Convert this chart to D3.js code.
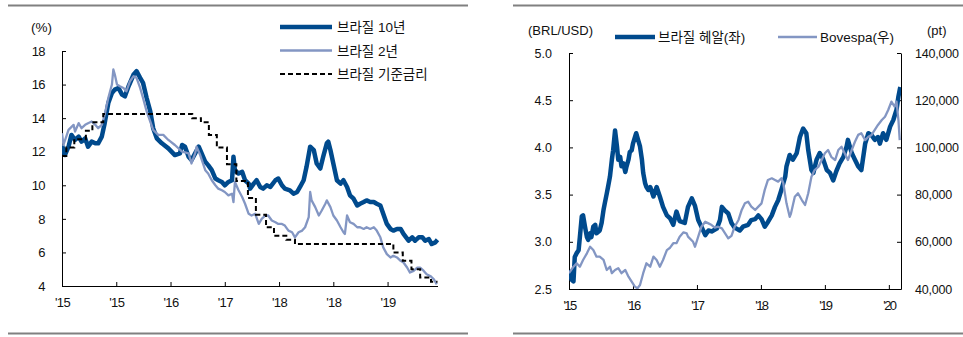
<!DOCTYPE html>
<html><head><meta charset="utf-8">
<script src="https://cdn.jsdelivr.net/npm/d3@7/dist/d3.min.js"></script>
<style>
body{margin:0;background:#fff}
svg text{font-family:"Liberation Sans",Arial,"Noto Sans CJK KR",sans-serif;fill:#111}
</style></head><body>
<svg id="c" width="963" height="337"></svg>
<script>
// ---------- DATA (decimal year, value) ----------
const bond10 = [[2015.00,12.4],[2015.04,11.8],[2015.09,12.3],[2015.13,13.0],[2015.18,12.7],[2015.23,12.9],[2015.27,12.6],[2015.32,12.8],[2015.36,12.3],[2015.41,12.6],[2015.46,12.5],[2015.50,12.5],[2015.55,12.9],[2015.59,13.7],[2015.64,14.9],[2015.69,15.5],[2015.73,15.7],[2015.78,15.8],[2015.83,15.4],[2015.87,15.3],[2015.92,15.9],[2015.99,16.6],[2016.03,16.8],[2016.08,16.4],[2016.12,16.1],[2016.17,15.2],[2016.22,14.4],[2016.26,13.4],[2016.31,12.8],[2016.38,12.5],[2016.47,12.2],[2016.56,11.8],[2016.63,11.9],[2016.66,12.4],[2016.70,12.3],[2016.75,11.7],[2016.79,11.5],[2016.84,11.9],[2016.89,12.3],[2016.93,11.9],[2016.98,11.4],[2017.02,11.2],[2017.07,10.9],[2017.12,10.4],[2017.16,10.3],[2017.21,10.2],[2017.25,10.0],[2017.30,10.2],[2017.35,10.3],[2017.37,11.7],[2017.39,10.9],[2017.44,10.7],[2017.49,10.8],[2017.53,10.3],[2017.58,10.1],[2017.60,9.8],[2017.65,10.1],[2017.69,10.3],[2017.74,9.9],[2017.78,9.8],[2017.83,10.0],[2017.88,9.9],[2017.95,10.3],[2017.99,10.4],[2018.04,10.0],[2018.08,9.8],[2018.15,9.7],[2018.20,9.5],[2018.25,9.6],[2018.29,9.9],[2018.34,10.3],[2018.38,11.1],[2018.43,12.3],[2018.48,12.1],[2018.52,11.3],[2018.57,11.0],[2018.61,11.7],[2018.66,12.5],[2018.68,12.6],[2018.71,12.1],[2018.75,11.3],[2018.80,10.3],[2018.85,10.1],[2018.89,10.3],[2018.94,9.9],[2018.98,9.4],[2019.03,9.2],[2019.08,8.8],[2019.12,8.9],[2019.17,9.0],[2019.21,9.1],[2019.26,9.0],[2019.31,9.0],[2019.35,8.9],[2019.40,8.8],[2019.44,8.3],[2019.49,7.7],[2019.54,7.4],[2019.58,7.3],[2019.63,7.4],[2019.68,7.4],[2019.72,7.1],[2019.79,6.7],[2019.84,6.9],[2019.88,6.7],[2019.93,6.9],[2019.98,6.9],[2020.02,6.7],[2020.07,6.8],[2020.11,6.5],[2020.16,6.6],[2020.19,6.75]];

const bond2 = [[2015.00,13.1],[2015.02,12.4],[2015.09,13.3],[2015.16,13.6],[2015.18,13.2],[2015.23,13.7],[2015.27,13.4],[2015.32,13.6],[2015.36,13.7],[2015.41,13.8],[2015.46,13.6],[2015.50,13.4],[2015.55,13.6],[2015.59,14.2],[2015.64,15.2],[2015.69,16.0],[2015.71,16.9],[2015.73,16.6],[2015.76,16.0],[2015.80,15.9],[2015.85,15.8],[2015.89,15.6],[2015.94,16.2],[2015.99,16.5],[2016.03,16.4],[2016.08,15.8],[2016.12,15.2],[2016.17,14.4],[2016.22,13.8],[2016.26,13.3],[2016.33,13.0],[2016.40,13.0],[2016.47,12.7],[2016.56,12.4],[2016.66,12.0],[2016.75,11.9],[2016.79,11.3],[2016.84,11.9],[2016.86,12.3],[2016.91,11.8],[2016.98,10.9],[2017.02,10.7],[2017.07,10.3],[2017.12,10.0],[2017.16,9.8],[2017.21,9.7],[2017.25,9.6],[2017.30,9.4],[2017.35,9.5],[2017.37,9.0],[2017.39,10.2],[2017.44,9.7],[2017.49,9.3],[2017.53,8.9],[2017.58,8.3],[2017.62,8.2],[2017.67,8.3],[2017.72,7.7],[2017.76,8.0],[2017.81,8.2],[2017.85,8.2],[2017.90,7.9],[2017.95,7.8],[2017.99,7.7],[2018.04,7.7],[2018.08,7.6],[2018.13,7.3],[2018.18,7.2],[2018.22,6.9],[2018.27,7.2],[2018.32,7.3],[2018.36,7.5],[2018.41,8.1],[2018.43,9.6],[2018.45,9.1],[2018.50,8.7],[2018.55,8.2],[2018.59,8.5],[2018.64,8.9],[2018.66,9.1],[2018.71,8.7],[2018.75,8.2],[2018.80,7.9],[2018.85,7.5],[2018.89,7.2],[2018.91,7.1],[2018.94,8.2],[2018.98,7.8],[2019.03,7.7],[2019.08,7.5],[2019.12,7.5],[2019.17,7.4],[2019.21,7.5],[2019.26,7.4],[2019.31,7.5],[2019.35,7.3],[2019.40,6.9],[2019.44,6.3],[2019.49,5.9],[2019.54,5.7],[2019.58,5.8],[2019.63,5.7],[2019.68,5.5],[2019.72,5.4],[2019.77,5.1],[2019.81,4.8],[2019.86,4.9],[2019.91,5.1],[2019.95,5.1],[2020.00,4.9],[2020.04,4.7],[2020.09,4.6],[2020.14,4.4],[2020.18,4.1]];

const selic = [[2015.00,11.75],[2015.06,12.25],[2015.17,12.75],[2015.33,13.25],[2015.42,13.75],[2015.57,14.25],[2016.80,14.00],[2016.92,13.75],[2017.03,13.00],[2017.14,12.25],[2017.28,11.25],[2017.41,10.25],[2017.57,9.25],[2017.68,8.25],[2017.82,7.50],[2017.93,7.00],[2018.10,6.75],[2018.22,6.50],[2019.58,6.00],[2019.71,5.50],[2019.83,5.00],[2019.95,4.50],[2020.10,4.25],[2020.19,4.25]];

const brl = [[2015.00,2.70],[2015.04,2.60],[2015.07,2.58],[2015.09,2.84],[2015.12,2.88],[2015.15,2.91],[2015.17,3.05],[2015.20,3.27],[2015.22,3.28],[2015.25,3.16],[2015.28,3.05],[2015.30,3.02],[2015.33,3.09],[2015.35,3.05],[2015.38,3.16],[2015.41,3.18],[2015.43,3.09],[2015.48,3.12],[2015.51,3.20],[2015.54,3.34],[2015.56,3.41],[2015.59,3.51],[2015.61,3.58],[2015.64,3.69],[2015.67,3.87],[2015.69,3.97],[2015.72,4.18],[2015.75,4.01],[2015.77,3.87],[2015.80,3.90],[2015.82,3.80],[2015.85,3.83],[2015.88,3.74],[2015.90,3.80],[2015.93,3.87],[2015.95,3.95],[2015.98,3.97],[2016.00,4.04],[2016.05,4.15],[2016.08,4.08],[2016.11,4.01],[2016.14,3.87],[2016.16,3.73],[2016.19,3.62],[2016.21,3.58],[2016.24,3.55],[2016.27,3.58],[2016.32,3.48],[2016.37,3.58],[2016.42,3.48],[2016.47,3.37],[2016.53,3.28],[2016.58,3.25],[2016.63,3.18],[2016.68,3.32],[2016.73,3.22],[2016.81,3.20],[2016.86,3.37],[2016.92,3.46],[2016.97,3.38],[2017.02,3.23],[2017.07,3.16],[2017.13,3.07],[2017.18,3.12],[2017.23,3.11],[2017.31,3.14],[2017.36,3.23],[2017.39,3.37],[2017.44,3.33],[2017.49,3.30],[2017.54,3.20],[2017.59,3.15],[2017.67,3.12],[2017.72,3.16],[2017.80,3.18],[2017.85,3.23],[2017.91,3.24],[2017.96,3.28],[2018.01,3.24],[2018.06,3.16],[2018.11,3.21],[2018.17,3.28],[2018.22,3.37],[2018.27,3.44],[2018.32,3.55],[2018.38,3.69],[2018.40,3.80],[2018.45,3.92],[2018.50,3.87],[2018.56,3.94],[2018.61,4.11],[2018.66,4.20],[2018.71,4.15],[2018.74,3.97],[2018.79,3.76],[2018.82,3.73],[2018.87,3.87],[2018.92,3.94],[2018.97,3.88],[2019.03,3.76],[2019.08,3.73],[2019.13,3.65],[2019.18,3.75],[2019.23,3.83],[2019.29,3.90],[2019.34,4.01],[2019.36,4.08],[2019.42,3.94],[2019.47,3.87],[2019.52,3.80],[2019.57,3.76],[2019.63,4.04],[2019.68,4.15],[2019.73,4.13],[2019.78,4.08],[2019.83,4.11],[2019.86,4.04],[2019.91,4.15],[2019.96,4.08],[2020.02,4.22],[2020.07,4.29],[2020.12,4.40],[2020.15,4.54],[2020.17,4.61],[2020.18,4.64]];

const bovespa = [[2015.00,46700],[2015.07,49450],[2015.12,50900],[2015.17,49450],[2015.22,52300],[2015.28,55100],[2015.33,57900],[2015.38,56500],[2015.43,53700],[2015.48,53700],[2015.54,52300],[2015.59,48050],[2015.64,49450],[2015.67,46700],[2015.72,48050],[2015.77,48800],[2015.82,46700],[2015.88,48050],[2015.93,45200],[2015.98,43100],[2016.03,41000],[2016.07,40300],[2016.11,41700],[2016.16,46700],[2016.21,50900],[2016.27,49450],[2016.32,53700],[2016.37,52300],[2016.42,49450],[2016.47,52300],[2016.53,56500],[2016.58,57500],[2016.63,59400],[2016.68,59400],[2016.73,62170],[2016.79,64000],[2016.84,63600],[2016.86,62200],[2016.94,60000],[2016.97,57900],[2017.02,62170],[2017.07,66400],[2017.13,68500],[2017.18,67800],[2017.23,67100],[2017.28,66000],[2017.33,66400],[2017.39,65700],[2017.44,63600],[2017.49,61500],[2017.54,62500],[2017.59,66400],[2017.65,69250],[2017.70,73500],[2017.75,76300],[2017.80,77000],[2017.85,74900],[2017.91,73500],[2017.96,74900],[2018.01,76300],[2018.06,82000],[2018.11,86200],[2018.17,86900],[2018.22,86200],[2018.27,85500],[2018.32,86900],[2018.35,84800],[2018.40,76300],[2018.45,70600],[2018.47,72000],[2018.53,79100],[2018.58,80550],[2018.64,77700],[2018.69,75600],[2018.74,80550],[2018.79,87600],[2018.84,90400],[2018.90,91800],[2018.95,94650],[2019.00,97500],[2019.05,98900],[2019.10,96000],[2019.16,94650],[2019.21,98900],[2019.26,100300],[2019.31,97500],[2019.36,94650],[2019.42,98900],[2019.47,102400],[2019.52,105300],[2019.57,106000],[2019.63,103100],[2019.68,104500],[2019.73,105300],[2019.78,107400],[2019.83,109500],[2019.89,111600],[2019.94,113000],[2019.99,115850],[2020.04,119400],[2020.09,117300],[2020.12,119400],[2020.15,111600],[2020.17,103100]];

const leftYTicks = [4,6,8,10,12,14,16,18];
const leftXTicks = [2015,2015.75,2016.5,2017.25,2018,2018.75,2019.5];
const leftXLabels = ["'15","'15","'16","'17","'18","'18","'19"];
const rightY1Ticks = [2.5,3.0,3.5,4.0,4.5,5.0];
const rightY2Ticks = [40000,60000,80000,100000,120000,140000];
const rightXTicks = [2015,2016,2017,2018,2019,2020];
const rightXLabels = ["'15","'16","'17","'18","'19","'20"];

const DARK = "#004a8d", LIGHT = "#8396c3";

// ---------- DRAW ----------
const svg = d3.select("#c");
svg.append("rect").attr("width",963).attr("height",337).attr("fill","#fff");

[[8,468],[513,963]].forEach(([a,b])=>{
  [5.5,333.5].forEach(y=>svg.append("line").attr("x1",a).attr("x2",b).attr("y1",y).attr("y2",y)
    .attr("stroke","#808080").attr("stroke-width",2));
});

function styleAxis(fs, ls){
  return g=>{
    g.attr("font-size",fs);
    g.selectAll("path,line").attr("stroke","#000");
    g.selectAll("text").attr("fill","#111").attr("letter-spacing",ls);
  };
}

// ===== LEFT CHART =====
const xL = d3.scaleLinear().domain([2015,2020.19]).range([62,437.5]);
const yL = d3.scaleLinear().domain([4,18]).range([286,51]);

svg.append("defs").html('<clipPath id="clipL"><rect x="62" y="40" width="380" height="246"/></clipPath><clipPath id="clipR"><rect x="569" y="40" width="332" height="249"/></clipPath>');

svg.append("g").attr("transform","translate(62,0)")
  .call(d3.axisLeft(yL).tickValues(leftYTicks).tickSize(-4).tickSizeOuter(0).tickPadding(17).tickFormat(d3.format("d")))
  .call(styleAxis(13,-0.6));
svg.append("g").attr("transform","translate(0,286)")
  .call(d3.axisBottom(xL).tickValues(leftXTicks).tickSize(-4).tickSizeOuter(0).tickPadding(12).tickFormat((d,i)=>leftXLabels[i]))
  .call(styleAxis(13,-0.6));

const lineL = d3.line().x(d=>xL(d[0])).y(d=>yL(d[1]));
const gL = svg.append("g").attr("clip-path","url(#clipL)");
gL.append("path").datum(bond10).attr("d",lineL).attr("fill","none").attr("stroke",DARK).attr("stroke-width",4.5).attr("stroke-linejoin","round");
gL.append("path").datum(bond2).attr("d",lineL).attr("fill","none").attr("stroke",LIGHT).attr("stroke-width",2.3).attr("stroke-linejoin","round");
gL.append("path").datum(selic).attr("d",lineL.curve(d3.curveStepAfter)).attr("fill","none").attr("stroke","#000").attr("stroke-width",2).attr("stroke-dasharray","5,3");

svg.append("text").attr("x",31).attr("y",32).attr("font-size",13.5).text("(%)");

const legL = [["브라질 10년",DARK,4.5,null],["브라질 2년",LIGHT,2.5,null],["브라질 기준금리","#000",2,"5,3"]];
legL.forEach((d,i)=>{
  const y = 27 + i*23.5;
  svg.append("line").attr("x1",280).attr("x2",332).attr("y1",y).attr("y2",y)
    .attr("stroke",d[1]).attr("stroke-width",d[2]).attr("stroke-dasharray",d[3]);
  svg.append("text").attr("x",337).attr("y",y+5).attr("font-size",13.5).text(d[0]);
});

// ===== RIGHT CHART =====
const xR = d3.scaleLinear().domain([2015,2020.19]).range([569,901]);
const yR1 = d3.scaleLinear().domain([2.5,5]).range([289,53]);
const yR2 = d3.scaleLinear().domain([40000,140000]).range([289,53]);

svg.append("g").attr("transform","translate(569,0)")
  .call(d3.axisLeft(yR1).tickValues(rightY1Ticks).tickSize(-4).tickSizeOuter(0).tickPadding(17).tickFormat(d3.format(".1f")))
  .call(styleAxis(12.5,0));
svg.append("g").attr("transform","translate(901,0)")
  .call(d3.axisRight(yR2).tickValues(rightY2Ticks).tickSize(-4).tickSizeOuter(0).tickPadding(14).tickFormat(d3.format(",")))
  .call(styleAxis(12.5,-0.2));
svg.append("g").attr("transform","translate(0,289)")
  .call(d3.axisBottom(xR).tickValues(rightXTicks).tickSize(-4).tickSizeOuter(0).tickPadding(12).tickFormat((d,i)=>rightXLabels[i]))
  .call(styleAxis(13,-1.6));

const gR = svg.append("g").attr("clip-path","url(#clipR)");
gR.append("path").datum(brl).attr("d",d3.line().x(d=>xR(d[0])).y(d=>yR1(d[1])))
  .attr("fill","none").attr("stroke",DARK).attr("stroke-width",4.5).attr("stroke-linejoin","round");
gR.append("path").datum(bovespa).attr("d",d3.line().x(d=>xR(d[0])).y(d=>yR2(d[1])))
  .attr("fill","none").attr("stroke",LIGHT).attr("stroke-width",2.3).attr("stroke-linejoin","round");

svg.append("text").attr("x",528).attr("y",35).attr("font-size",13).text("(BRL/USD)");
svg.append("text").attr("x",927).attr("y",35).attr("font-size",13).text("(pt)");

svg.append("line").attr("x1",615).attr("x2",655).attr("y1",37).attr("y2",37).attr("stroke",DARK).attr("stroke-width",4.5);
svg.append("text").attr("x",658).attr("y",42).attr("font-size",13.5).text("브라질 헤알(좌)");
svg.append("line").attr("x1",778).attr("x2",817).attr("y1",37).attr("y2",37).attr("stroke",LIGHT).attr("stroke-width",2.5);
svg.append("text").attr("x",820).attr("y",42).attr("font-size",13.5).text("Bovespa(우)");
</script></body></html>
